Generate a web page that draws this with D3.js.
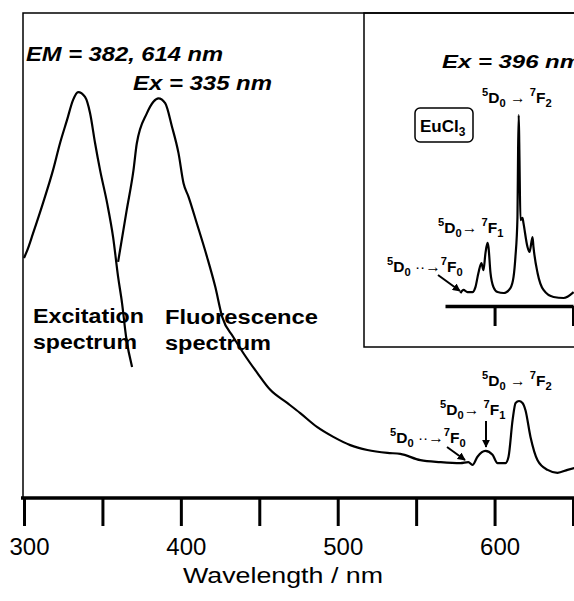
<!DOCTYPE html>
<html>
<head>
<meta charset="utf-8">
<script src="https://cdn.jsdelivr.net/npm/d3@7"></script>
<style>
  body { margin: 0; background: #fff; }
  svg { display: block; font-family: "Liberation Sans", Arial, sans-serif; }
</style>
</head>
<body>
<script>
// wavelengths (nm) and relative intensities
const excitationWl = [300, 302.0, 305.7, 312.1, 318.5, 323.0, 327.4, 331.3, 334.5, 338.9, 342.1, 345.3, 348.5, 353.0, 356.8, 360.0, 362.5, 365.1, 368.9];
const excitationInt = [49.5, 51.0, 54.5, 60.8, 67.6, 73.2, 77.9, 82.1, 83.7, 82.7, 79.4, 73.2, 67.6, 60.8, 53.8, 45.6, 40.2, 33.2, 27.0];

const fluorWl = [360.0, 365.5, 369.8, 371.9, 378.3, 382.5, 385.7, 390.0, 394.3, 398.5, 401.7, 404.9, 410.2, 416.6, 421.9, 426.4, 433.4, 439.8, 448.7, 457.0, 467.8, 476.1, 487.0, 497.2, 508.0, 518.9, 531.7, 539.9, 552.7, 565.5, 578.2, 583.3, 585.9, 589.1, 594.2, 598.7, 601.9, 607.0, 608.9, 611.5, 613.4, 615.6, 617.8, 619.7, 622.9, 627.4, 633.8, 640.1, 646.5, 651];
const fluorInt = [48.7, 59.4, 67.6, 73.1, 79.3, 81.7, 82.4, 81.4, 76.6, 71.1, 64.9, 62.1, 56.6, 49.8, 43.6, 37.3, 33.2, 29.9, 25.8, 22.3, 19.6, 17.5, 14.6, 12.6, 10.9, 9.9, 9.3, 9.1, 7.8, 7.4, 7.2, 7.4, 6.8, 8.5, 9.7, 8.9, 7.2, 7.2, 8.5, 16.1, 19.6, 20.0, 19.6, 18.1, 12.6, 7.8, 5.8, 5.2, 5.8, 6.2];

// EuCl3 inset, Ex = 396 nm
const insetWl = [578.2, 580.2, 582.7, 585.9, 587.8, 589.7, 591.6, 592.9, 594.2, 595.5, 596.1, 597.4, 599.3, 601.9, 605.7, 610.1, 612.1, 613.3, 614.6, 615.0, 615.4, 615.8, 616.5, 617.8, 618.4, 621.0, 622.3, 624.2, 624.8, 627.4, 631.2, 637.6, 644.0, 650.4];
const insetInt = [6.8, 8.4, 7.3, 7.3, 9.9, 17.3, 22.5, 18.8, 27.7, 33.0, 30.9, 17.3, 9.9, 7.3, 6.8, 9.4, 15.2, 25.7, 46.6, 81.7, 100, 81.7, 45.0, 46.1, 43.5, 30.9, 28.3, 36.1, 30.9, 17.3, 8.4, 4.7, 4.2, 7.3];

const xTicks = [300, 350, 400, 450, 500, 550, 600, 650];
const xTickLabels = ["300", "", "400", "", "500", "", "600", ""];
const insetTicks = [600, 650];

const width = 574, height = 601;

const svg = d3.select("body").append("svg")
  .attr("width", width)
  .attr("height", height)
  .attr("viewBox", [0, 0, width, height]);

const x = d3.scaleLinear().domain([300, 650]).range([24, 573]);
const y = d3.scaleLinear().domain([0, 100]).range([498, 13]);
const yIn = d3.scaleLinear().domain([0, 100]).range([306, 115]);
const xIn = d3.scaleLinear().domain([x.invert(445), 650]).range([445, 573]);

const zip = (a, b) => a.map((v, i) => [v, b[i]]);

// frame: left + top border
svg.append("path")
  .attr("d", `M23,498V13H${width}`)
  .attr("fill", "none").attr("stroke", "#000").attr("stroke-width", 1.5);

// inset box
svg.append("rect")
  .attr("x", 364).attr("y", 13).attr("width", 230).attr("height", 334)
  .attr("fill", "none").attr("stroke", "#000").attr("stroke-width", 1.5);

// main x axis
svg.append("g")
  .attr("transform", "translate(0,498)")
  .call(d3.axisBottom(x).tickValues(xTicks).tickSize(28).tickSizeOuter(0).tickPadding(13)
    .tickFormat((d, i) => xTickLabels[i]))
  .call(g => g.select(".domain").attr("stroke-width", 3.5).attr("d", `M21,0H${width}`))
  .call(g => g.selectAll(".tick line").attr("stroke-width", 3))
  .call(g => g.selectAll(".tick text")
    .attr("font-size", 23).attr("font-family", "Liberation Sans, Arial, sans-serif")
    .attr("fill", "#000").attr("dx", 5)
    .attr("textLength", d => xTickLabels[xTicks.indexOf(d)] ? 40 : null)
    .attr("lengthAdjust", "spacingAndGlyphs"));

svg.append("text")
  .attr("x", 283).attr("y", 583)
  .attr("text-anchor", "middle")
  .attr("font-size", 22)
  .attr("textLength", 200).attr("lengthAdjust", "spacingAndGlyphs")
  .text("Wavelength / nm");

// inset x axis
svg.append("g")
  .attr("transform", "translate(0,306)")
  .call(d3.axisBottom(xIn).tickValues(insetTicks).tickSize(20).tickSizeOuter(0).tickFormat(""))
  .call(g => g.select(".domain").attr("stroke-width", 3.5))
  .call(g => g.selectAll(".tick line").attr("stroke-width", 3));

const line = d3.line()
  .x(d => x(d[0]))
  .y(d => y(d[1]))
  .curve(d3.curveMonotoneX);

const lineIn = d3.line()
  .x(d => x(d[0]))
  .y(d => yIn(d[1]))
  .curve(d3.curveMonotoneX);

svg.append("path")
  .datum(zip(excitationWl, excitationInt))
  .attr("d", line)
  .attr("fill", "none").attr("stroke", "#000").attr("stroke-width", 2.2);

svg.append("path")
  .datum(zip(fluorWl, fluorInt))
  .attr("d", line)
  .attr("fill", "none").attr("stroke", "#000").attr("stroke-width", 2.2);

svg.append("path")
  .datum(zip(insetWl, insetInt))
  .attr("d", lineIn)
  .attr("fill", "none").attr("stroke", "#000").attr("stroke-width", 2.2);

// plain labels
const label = (tx, px, py, size, len, italic) => svg.append("text")
  .attr("x", px).attr("y", py)
  .attr("font-size", size)
  .attr("font-weight", "bold")
  .attr("font-style", italic ? "italic" : "normal")
  .attr("textLength", len).attr("lengthAdjust", "spacingAndGlyphs")
  .text(tx);

label("EM = 382, 614 nm", 26, 61, 20, 197, true);
label("Ex = 335 nm", 133, 90, 20, 139, true);
label("Ex = 396 nm", 442, 68, 19, 139, true);
label("Excitation", 33, 323, 20, 111);
label("spectrum", 33, 349, 20, 104);
label("Fluorescence", 165, 324, 20, 153);
label("spectrum", 165, 350, 20, 106);

// transition labels with super/subscripts
function term(px, py, parts, size = 15.5) {
  const t = svg.append("text")
    .attr("x", px).attr("y", py)
    .attr("font-size", size).attr("font-weight", "bold");
  let shift = 0;
  parts.forEach(([s, k]) => {
    const target = k === "sup" ? -0.42 * size : k === "sub" ? 0.28 * size : 0;
    t.append("tspan")
      .attr("dy", target - shift)
      .attr("font-size", k ? size * 0.72 : size)
      .attr("font-weight", s.includes("→") ? "normal" : "bold")
      .text(s);
    shift = target;
  });
}

const f2 = [["5", "sup"], ["D", ""], ["0", "sub"], [" → ", ""], ["7", "sup"], ["F", ""], ["2", "sub"]];
const f1 = [["5", "sup"], ["D", ""], ["0", "sub"], ["→ ", ""], ["7", "sup"], ["F", ""], ["1", "sub"]];
const f0 = [["5", "sup"], ["D", ""], ["0", "sub"], [" ··→", ""], ["7", "sup"], ["F", ""], ["0", "sub"]];

term(482, 386, f2);
term(440, 415, f1);
term(390, 443, f0);
term(482, 103, f2);
term(438, 233, f1);
term(387, 272, f0);

// EuCl3 tag
svg.append("rect")
  .attr("x", 415).attr("y", 108).attr("width", 58).attr("height", 34).attr("rx", 5)
  .attr("fill", "none").attr("stroke", "#000").attr("stroke-width", 1.5);
const eu = svg.append("text").attr("x", 420).attr("y", 132)
  .attr("font-size", 17).attr("font-weight", "bold");
eu.append("tspan").text("EuCl");
eu.append("tspan").attr("dy", 4).attr("font-size", 12).text("3");

// pointer arrows
svg.append("defs").append("marker")
  .attr("id", "head")
  .attr("viewBox", "0 0 10 10")
  .attr("refX", 9).attr("refY", 5)
  .attr("markerWidth", 4).attr("markerHeight", 4)
  .attr("orient", "auto")
  .append("path").attr("d", "M0,0L10,5L0,10Z").attr("fill", "#000");

const arrow = (x1, y1, x2, y2) => svg.append("line")
  .attr("x1", x1).attr("y1", y1).attr("x2", x2).attr("y2", y2)
  .attr("stroke", "#000").attr("stroke-width", 2)
  .attr("marker-end", "url(#head)");

arrow(447, 447, 465, 460);
arrow(486, 421, 486, 447);
arrow(438, 275, 460, 291);
</script>
</body>
</html>
